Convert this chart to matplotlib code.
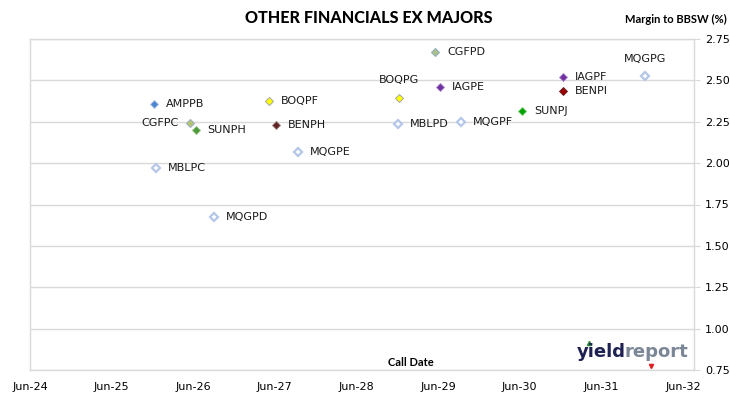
import matplotlib
matplotlib.use("Agg")
import matplotlib.pyplot as plt
import matplotlib.dates as mdates
from datetime import datetime

# ---- data ----
names = ["AMPPB", "CGFPC", "SUNPH", "MBLPC", "MQGPD", "BOQPF", "BENPH", "MQGPE",
         "BOQPG", "MBLPD", "CGFPD", "IAGPE", "MQGPF", "SUNPJ", "IAGPF", "BENPI", "MQGPG"]
call_dates = ["2025-12-09", "2026-05-20", "2026-06-13", "2025-12-18", "2026-09-03",
              "2027-05-08", "2027-06-07", "2027-09-12", "2028-12-09", "2028-12-03",
              "2029-05-19", "2029-06-10", "2029-09-11", "2030-06-12", "2030-12-12",
              "2030-12-12", "2031-12-13"]
margins = [2.355, 2.24, 2.198, 1.97, 1.676, 2.374, 2.23, 2.065,
           2.395, 2.238, 2.67, 2.458, 2.25, 2.315, 2.519, 2.434, 2.526]
label_pos = ["right", "left", "right", "right", "right", "right", "right", "right",
             "above", "right", "right", "right", "right", "right", "right", "right", "above"]
y_ticks = [0.75, 1.00, 1.25, 1.50, 1.75, 2.00, 2.25, 2.50, 2.75]
x_tick_years = list(range(2024, 2033))

# marker styles (face, edge, size, edge width)
styles = {
    "AMPPB": ("#4A86D0", "#A9C4E6", 4.2, 0.6),
    "CGFPC": ("#B5C36A", "#9DB3C8", 4.4, 0.8),
    "SUNPH": ("#4E9A3A", "#8FC07F", 4.2, 0.6),
    "CGFPD": ("#AEBE84", "#8FB3C0", 4.4, 0.8),
    "BOQPF": ("#FFFF00", "#A6A6A6", 4.4, 0.7),
    "BOQPG": ("#FFFF00", "#A6A6A6", 4.4, 0.7),
    "BENPH": ("#632523", "#9A7A78", 4.2, 0.6),
    "BENPI": ("#A00000", "#5A2020", 4.2, 0.6),
    "IAGPE": ("#7030A0", "#A985C8", 4.4, 0.6),
    "IAGPF": ("#7030A0", "#A985C8", 4.4, 0.6),
    "SUNPJ": ("#00A000", "#66CC66", 4.4, 0.6),
}
hollow = ("white", "#B4C7E7", 4.0, 1.6)

grid_c = "#D9D9D9"

fig = plt.figure(figsize=(7.30, 3.99), dpi=100)
ax = fig.add_axes([30 / 730, 1 - 370 / 399, (694 - 30) / 730, (370 - 39) / 399])

xd = [mdates.date2num(datetime.strptime(d, "%Y-%m-%d")) for d in call_dates]

for n, x, y, pos in zip(names, xd, margins, label_pos):
    fc, ec, ms, mew = styles.get(n, hollow)
    ax.plot([x], [y], linestyle="none", marker="D", markersize=ms,
            markerfacecolor=fc, markeredgecolor=ec, markeredgewidth=mew, zorder=3)
    if pos == "right":
        ax.annotate(n, (x, y), xytext=(8.5, 0), textcoords="offset points",
                    ha="left", va="center", fontsize=8, family="DejaVu Sans", color="#1a1a1a")
    elif pos == "left":
        ax.annotate(n, (x, y), xytext=(-8.5, 0), textcoords="offset points",
                    ha="right", va="center", fontsize=8, family="DejaVu Sans", color="#1a1a1a")
    else:
        ax.annotate(n, (x, y), xytext=(0, 12.5), textcoords="offset points",
                    ha="center", va="center", fontsize=8, family="DejaVu Sans", color="#1a1a1a")

ax.set_xlim(mdates.date2num(datetime(2024, 6, 1)), mdates.date2num(datetime(2032, 7, 20)))
ax.set_ylim(0.75, 2.75)
ax.set_xticks([mdates.date2num(datetime(yy, 6, 1)) for yy in x_tick_years])
ax.set_xticklabels([f"Jun-{yy % 100:02d}" for yy in x_tick_years])
ax.set_yticks(y_ticks)
ax.set_yticklabels([f"{v:.2f}" for v in y_ticks])
ax.yaxis.tick_right()
ax.tick_params(axis="y", direction="out", length=4, color=grid_c, pad=4, labelsize=8)
ax.tick_params(axis="x", length=0, pad=9, labelsize=8)
for lab in ax.get_xticklabels() + ax.get_yticklabels():
    lab.set_family("DejaVu Sans")
ax.grid(axis="y", color=grid_c, linewidth=1.0)
ax.set_axisbelow(True)
for s in ["left", "right", "bottom", "top"]:
    ax.spines[s].set_color(grid_c)
    ax.spines[s].set_linewidth(1.0)

fig.text(369 / 730, 1 - 18 / 399, "OTHER FINANCIALS EX MAJORS", ha="center", va="center",
         fontsize=11.6, fontweight="black", family="Lato")
fig.text(727 / 730, 1 - 19 / 399, "Margin to BBSW (%)", ha="right", va="center",
         fontsize=8, fontweight="bold", family="Lato")
fig.text(411 / 730, 1 - 363 / 399, "Call Date", ha="center", va="center",
         fontsize=8, fontweight="bold", family="Lato")

# logo: "yield" navy + "report" gray, laid out from measured full-word extent
logo_kw = dict(fontsize=13, fontweight="bold", family="DejaVu Sans", va="baseline")
lx, ly = 577 / 730, 1 - 357 / 399
probe = fig.text(lx, ly, "yieldreport", ha="left", color="none", **logo_kw)
renderer = fig.canvas.get_renderer()
x_end = (probe.get_window_extent(renderer).x1 - 1.5) / fig.bbox.width
probe.remove()
fig.text(lx, ly, "yield", ha="left", color="#1E2152", **logo_kw)
fig.text(x_end, ly, "report", ha="right", color="#7B8796", **logo_kw)
ax.plot([(589 - 30) / 664], [(370 - 343) / 331], transform=ax.transAxes, marker="^",
        markersize=3, color="#2E8B3E", linestyle="none", clip_on=False)
ax.plot([(651 - 30) / 664], [(370 - 366) / 331], transform=ax.transAxes, marker="v",
        markersize=3, color="#E02020", linestyle="none", clip_on=False)

fig.savefig("out.png", dpi=100)
